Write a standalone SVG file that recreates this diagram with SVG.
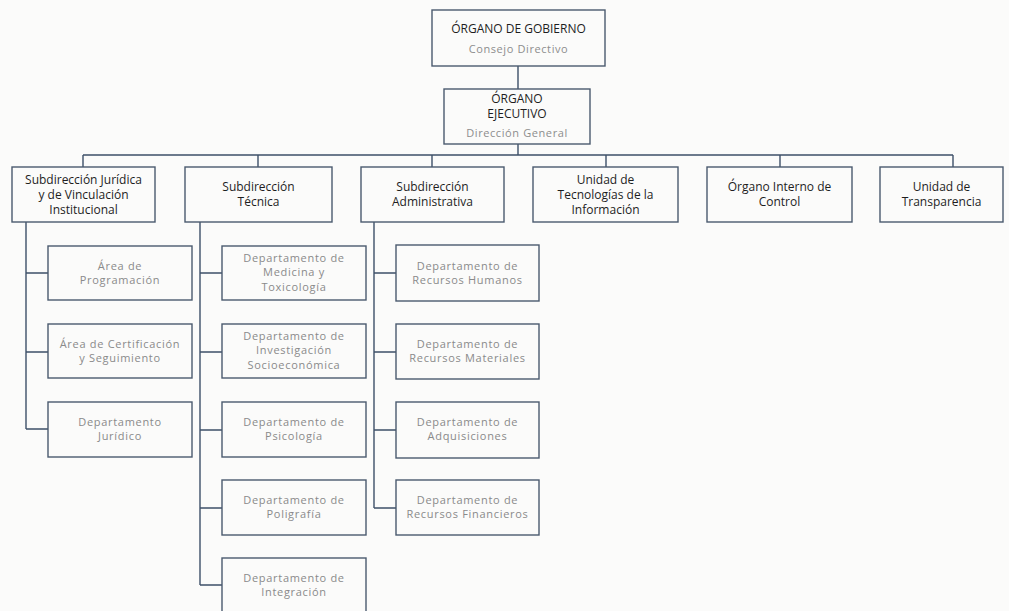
<svg xmlns="http://www.w3.org/2000/svg" width="1009" height="611" viewBox="0 0 1009 611">
<style>
.bg{fill:#fbfbfa}
.box{fill:#fbfbfa;stroke:#4a5a6e;stroke-width:1.4}
.ln{fill:none;stroke:#3e5068;stroke-width:1.4}
.t1{font-family:"Open Sans","Liberation Sans",sans-serif;font-size:12px;fill:#1e1e1e;text-anchor:middle}
.t2{font-family:"Open Sans","Liberation Sans",sans-serif;font-size:12px;fill:#1e1e1e;text-anchor:middle}
.tg{font-family:"Open Sans","Liberation Sans",sans-serif;font-size:11px;fill:#8d8d8d;text-anchor:middle;letter-spacing:0.6px}
.t3{font-family:"Open Sans","Liberation Sans",sans-serif;font-size:11px;fill:#8a8a8a;text-anchor:middle;letter-spacing:0.7px}
</style>
<rect class="bg" x="0" y="0" width="1009" height="611"/>
<g id="connectors">
<path class="ln" d="M518 66V89M518 144V155M83 155H953M83 155V167M258 155V167M432 155V167M606 155V167M780 155V167M953 155V167"/>
<path class="ln" d="M26 222V429M26 273H48M26 352H48M26 429H48"/>
<path class="ln" d="M200 222V585M200 273H222M200 352H222M200 430H222M200 508H222M200 585H222"/>
<path class="ln" d="M374 222V508M374 273H396M374 352H396M374 430H396M374 508H396"/>
</g>
<g id="n-gobierno"><rect class="box" x="432" y="10" width="173" height="56"/>
<text class="t1" x="518.5" y="33">ÓRGANO DE GOBIERNO</text><text class="tg" x="518.5" y="53">Consejo Directivo</text></g>
<g id="n-ejecutivo"><rect class="box" x="444" y="89" width="146" height="55"/>
<text class="t1" x="517" y="103">ÓRGANO</text><text class="t1" x="517" y="118">EJECUTIVO</text><text class="tg" x="517" y="137">Dirección General</text></g>
<g id="n-juridica"><rect class="box" x="12" y="167" width="143" height="55"/>
<text class="t2" x="83.5" y="184">Subdirección Jurídica</text><text class="t2" x="83.5" y="199">y de Vinculación</text><text class="t2" x="83.5" y="214">Institucional</text></g>
<g id="n-tecnica"><rect class="box" x="185" y="167" width="147" height="55"/>
<text class="t2" x="258.5" y="191">Subdirección</text><text class="t2" x="258.5" y="206">Técnica</text></g>
<g id="n-admin"><rect class="box" x="361" y="167" width="143" height="55"/>
<text class="t2" x="432.5" y="191">Subdirección</text><text class="t2" x="432.5" y="206">Administrativa</text></g>
<g id="n-tic"><rect class="box" x="533" y="167" width="145" height="55"/>
<text class="t2" x="605.5" y="184">Unidad de</text><text class="t2" x="605.5" y="199">Tecnologías de la</text><text class="t2" x="605.5" y="214">Información</text></g>
<g id="n-oic"><rect class="box" x="707" y="167" width="145" height="55"/>
<text class="t2" x="779.5" y="191">Órgano Interno de</text><text class="t2" x="779.5" y="206">Control</text></g>
<g id="n-transp"><rect class="box" x="880" y="167" width="123" height="55"/>
<text class="t2" x="941.5" y="191">Unidad de</text><text class="t2" x="941.5" y="206">Transparencia</text></g>

<g id="n-programacion"><rect class="box" x="48" y="246" width="144" height="54"/>
<text class="t3" x="120" y="270">Área de</text><text class="t3" x="120" y="284">Programación</text></g>
<g id="n-certificacion"><rect class="box" x="48" y="324" width="144" height="54"/>
<text class="t3" x="120" y="348">Área de Certificación</text><text class="t3" x="120" y="362">y Seguimiento</text></g>
<g id="n-dep-juridico"><rect class="box" x="48" y="402" width="144" height="55"/>
<text class="t3" x="120" y="426">Departamento</text><text class="t3" x="120" y="440">Jurídico</text></g>

<g id="n-medicina"><rect class="box" x="222" y="246" width="144" height="54"/>
<text class="t3" x="294" y="262">Departamento de</text><text class="t3" x="294" y="276">Medicina y</text><text class="t3" x="294" y="291">Toxicología</text></g>
<g id="n-investigacion"><rect class="box" x="222" y="324" width="144" height="54"/>
<text class="t3" x="294" y="340">Departamento de</text><text class="t3" x="294" y="354">Investigación</text><text class="t3" x="294" y="369">Socioeconómica</text></g>
<g id="n-psicologia"><rect class="box" x="222" y="402" width="144" height="55"/>
<text class="t3" x="294" y="426">Departamento de</text><text class="t3" x="294" y="440">Psicología</text></g>
<g id="n-poligrafia"><rect class="box" x="222" y="480" width="144" height="55"/>
<text class="t3" x="294" y="504">Departamento de</text><text class="t3" x="294" y="518">Poligrafía</text></g>
<g id="n-integracion"><rect class="box" x="222" y="558" width="144" height="60"/>
<text class="t3" x="294" y="582">Departamento de</text><text class="t3" x="294" y="596">Integración</text></g>

<g id="n-rh"><rect class="box" x="396" y="245" width="143" height="56"/>
<text class="t3" x="467.5" y="270">Departamento de</text><text class="t3" x="467.5" y="284">Recursos Humanos</text></g>
<g id="n-rm"><rect class="box" x="396" y="324" width="143" height="55"/>
<text class="t3" x="467.5" y="348">Departamento de</text><text class="t3" x="467.5" y="362">Recursos Materiales</text></g>
<g id="n-adq"><rect class="box" x="396" y="402" width="143" height="56"/>
<text class="t3" x="467.5" y="426">Departamento de</text><text class="t3" x="467.5" y="440">Adquisiciones</text></g>
<g id="n-rf"><rect class="box" x="396" y="480" width="143" height="55"/>
<text class="t3" x="467.5" y="504">Departamento de</text><text class="t3" x="467.5" y="518">Recursos Financieros</text></g>
</svg>
